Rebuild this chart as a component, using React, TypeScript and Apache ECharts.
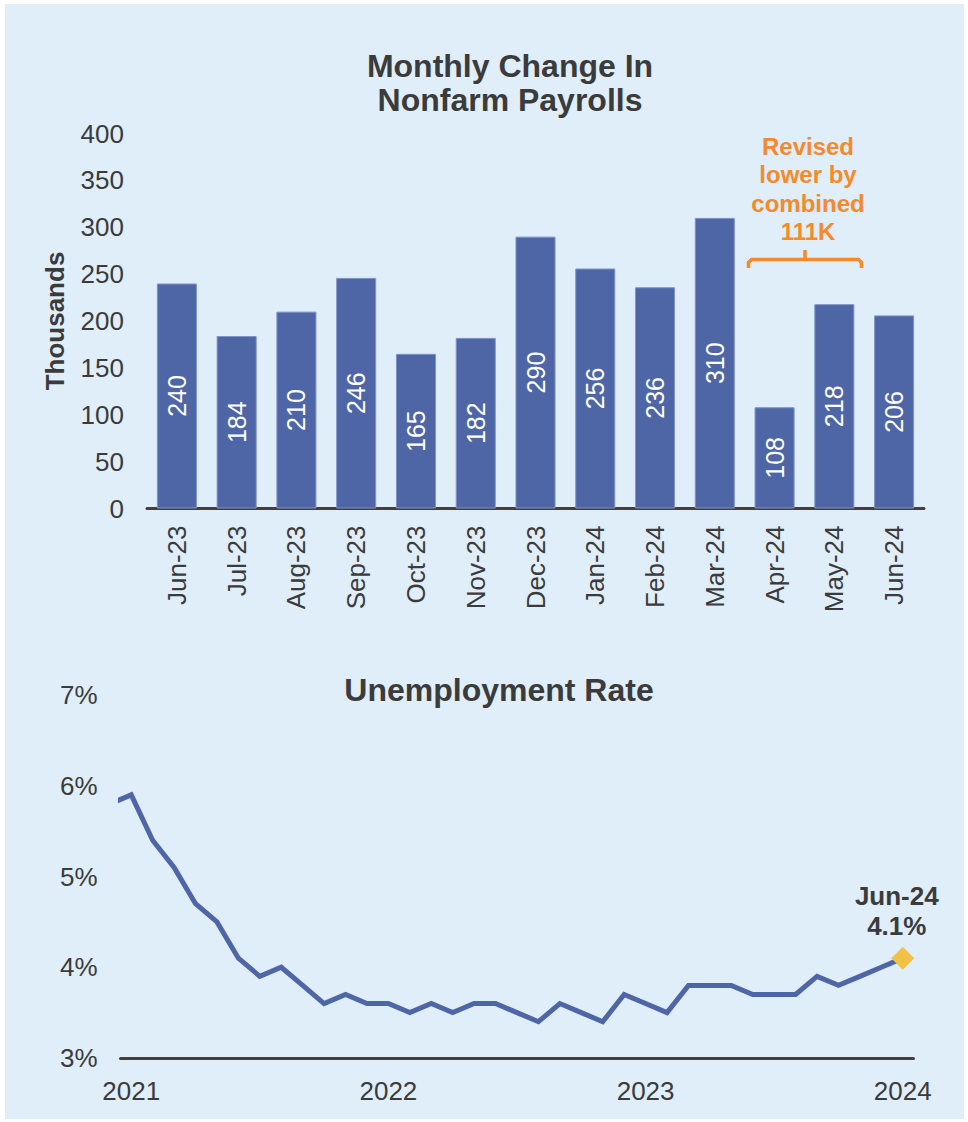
import React, { useEffect, useRef } from "react";
import * as echarts from "echarts";

const payrollMonths = ["Jun-23", "Jul-23", "Aug-23", "Sep-23", "Oct-23", "Nov-23", "Dec-23", "Jan-24", "Feb-24", "Mar-24", "Apr-24", "May-24", "Jun-24"];
const payrollValues = [240, 184, 210, 246, 165, 182, 290, 256, 236, 310, 108, 218, 206];

const unempMonths = [
  "May-21", "Jun-21", "Jul-21", "Aug-21", "Sep-21", "Oct-21", "Nov-21", "Dec-21",
  "Jan-22", "Feb-22", "Mar-22", "Apr-22", "May-22", "Jun-22", "Jul-22", "Aug-22", "Sep-22", "Oct-22", "Nov-22", "Dec-22",
  "Jan-23", "Feb-23", "Mar-23", "Apr-23", "May-23", "Jun-23", "Jul-23", "Aug-23", "Sep-23", "Oct-23", "Nov-23", "Dec-23",
  "Jan-24", "Feb-24", "Mar-24", "Apr-24", "May-24", "Jun-24",
];
const unempValues = [
  5.8, 5.9, 5.4, 5.1, 4.7, 4.5, 4.1, 3.9,
  4.0, 3.8, 3.6, 3.7, 3.6, 3.6, 3.5, 3.6, 3.5, 3.6, 3.6, 3.5,
  3.4, 3.6, 3.5, 3.4, 3.7, 3.6, 3.5, 3.8, 3.8, 3.8, 3.7, 3.7,
  3.7, 3.9, 3.8, 3.9, 4.0, 4.1,
];
const yearLabels = ["2021", "2022", "2023", "2024"];
const yearLabelMonths = ["Jun-21", "Jun-22", "Jun-23", "Jun-24"];
const unempTickLabels = ["3%", "4%", "5%", "6%", "7%"];
const annotationLines = ["Revised", "lower by", "combined", "111K"];

const FONT = "'Liberation Sans', Arial, sans-serif";
const TEXT = "#3b3b3b";
const BLUE = "#4e66a6";
const ORANGE = "#f58a2a";

export default function App() {
  const ref = useRef<HTMLDivElement>(null);

  useEffect(() => {
    document.body.style.margin = "0";
    const chart = echarts.init(ref.current!, null, { renderer: "svg" });

    const origin = unempMonths.indexOf(yearLabelMonths[0]);
    const xOf = (m: string) => unempMonths.indexOf(m) - origin;
    const lastIdx = unempMonths.length - 1;
    const xMin = -0.5;
    const xMax = xOf(unempMonths[lastIdx]) + 0.5;
    const lineData = unempValues.map((v, i) => [i - origin, v]);
    const yearTicks = yearLabelMonths.map(xOf);

    chart.setOption({
      animation: false,
      backgroundColor: "#ffffff",
      textStyle: { fontFamily: FONT },
      grid: [
        { left: 147, right: 44, top: 133.5, bottom: 1122 - 508.5 },
        { left: 120.5, right: 54.5, top: 695, bottom: 1122 - 1058 },
      ],
      xAxis: [
        {
          type: "category",
          gridIndex: 0,
          data: payrollMonths,
          axisLine: { lineStyle: { color: "#404040", width: 3 } },
          axisTick: { show: false },
          axisLabel: { rotate: 90, fontSize: 26, color: TEXT, margin: 17, fontFamily: FONT },
        },
        {
          type: "value",
          gridIndex: 1,
          min: xMin,
          max: xMax,
          axisLine: { show: true, onZero: false, lineStyle: { color: "#404040", width: 3 } },
          axisTick: { show: false },
          splitLine: { show: false },
          axisLabel: {
            customValues: yearTicks,
            fontSize: 26,
            color: TEXT,
            margin: 20,
            fontFamily: FONT,
            formatter: (v: number) => {
              const k = yearTicks.indexOf(v);
              return k >= 0 ? yearLabels[k] : "";
            },
          },
        },
      ],
      yAxis: [
        {
          type: "value",
          gridIndex: 0,
          min: 0,
          max: 400,
          interval: 50,
          axisLine: { show: false },
          axisTick: { show: false },
          splitLine: { show: false },
          axisLabel: { fontSize: 26, color: TEXT, margin: 23, fontFamily: FONT },
          name: "Thousands",
          nameLocation: "middle",
          nameGap: 79,
          nameRotate: 90,
          nameTextStyle: { fontSize: 26, fontWeight: "bold", color: TEXT, fontFamily: FONT },
        },
        {
          type: "value",
          gridIndex: 1,
          min: 3,
          max: 7,
          interval: 1,
          axisLine: { show: false },
          axisTick: { show: false },
          splitLine: { show: false },
          axisLabel: {
            fontSize: 26,
            color: TEXT,
            margin: 23,
            fontFamily: FONT,
            formatter: (v: number) => unempTickLabels[Math.round(v - 3)] ?? `${v}%`,
          },
        },
      ],
      series: [
        {
          type: "bar",
          xAxisIndex: 0,
          yAxisIndex: 0,
          data: payrollValues,
          barWidth: "67%",
          itemStyle: { color: BLUE, borderColor: "#7f93c6", borderWidth: 1 },
          label: {
            show: true,
            position: "inside",
            rotate: 90,
            color: "#ffffff",
            fontSize: 25,
            fontFamily: FONT,
          },
        },
        {
          type: "line",
          xAxisIndex: 1,
          yAxisIndex: 1,
          data: lineData,
          symbol: "none",
          clip: true,
          lineStyle: { color: BLUE, width: 5, join: "miter" },
        },
        {
          type: "scatter",
          xAxisIndex: 1,
          yAxisIndex: 1,
          z: 5,
          data: [[xOf(unempMonths[lastIdx]), unempValues[lastIdx]]],
          symbol: "diamond",
          symbolSize: [23, 23],
          itemStyle: { color: "#f2c246", opacity: 1 },
          label: {
            show: true,
            position: "top",
            distance: 6,
            offset: [-6, 0],
            formatter: `${unempMonths[lastIdx]}\n${unempValues[lastIdx]}%`,
            fontSize: 26,
            fontWeight: "bold",
            lineHeight: 30,
            color: TEXT,
            opacity: 1,
            fontFamily: FONT,
          },
        },
      ],
      graphic: [
        {
          type: "rect",
          z: -10,
          silent: true,
          shape: { x: 5, y: 4, width: 959, height: 1115 },
          style: { fill: "#e0eefa" },
        },
        {
          type: "text",
          x: 510,
          y: 83,
          style: {
            text: "Monthly Change In\nNonfarm Payrolls",
            align: "center",
            verticalAlign: "middle",
            font: `bold 32px ${FONT}`,
            lineHeight: 34,
            fill: TEXT,
          },
        },
        {
          type: "text",
          x: 499,
          y: 690,
          style: {
            text: "Unemployment Rate",
            align: "center",
            verticalAlign: "middle",
            font: `bold 32px ${FONT}`,
            fill: TEXT,
          },
        },
        {
          type: "text",
          x: 808,
          y: 189,
          style: {
            text: annotationLines.join("\n"),
            align: "center",
            verticalAlign: "middle",
            font: `bold 24px ${FONT}`,
            lineHeight: 28.5,
            fill: ORANGE,
          },
        },
        {
          type: "polyline",
          shape: { points: [[748.5, 268], [748.5, 262.5], [751.5, 259.5], [858.5, 259.5], [861.5, 262.5], [861.5, 268]] },
          style: { stroke: ORANGE, lineWidth: 3.5, fill: null },
        },
        {
          type: "line",
          shape: { x1: 805, y1: 259.5, x2: 805, y2: 250 },
          style: { stroke: ORANGE, lineWidth: 3.5 },
        },
      ],
    });

    return () => chart.dispose();
  }, []);

  return <div ref={ref} style={{ width: 968, height: 1122 }} />;
}
